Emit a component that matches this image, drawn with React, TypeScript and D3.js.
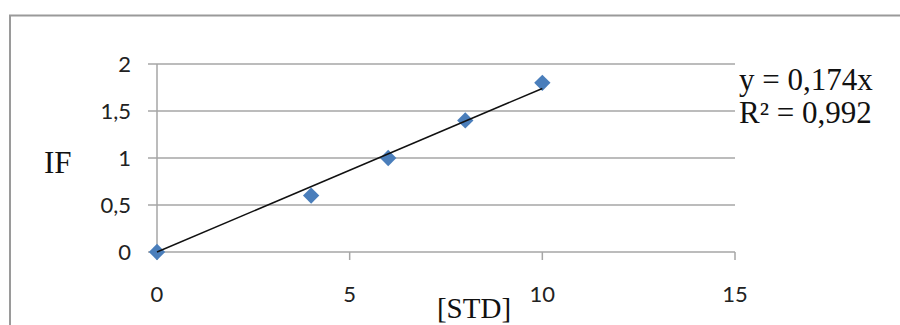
import React from 'react';
import * as d3 from 'd3';

const xValues = [0, 4, 6, 8, 10];
const yValues = [0, 0.6, 1.0, 1.4, 1.8];
const xTicks = [0, 5, 10, 15];
const yTicks = [0, 0.5, 1, 1.5, 2];
const slope = 0.174;
const equationLines = ['y = 0,174x', 'R² = 0,992'];

const W = 900;
const H = 325;

const fmt = (v: number) => String(v).replace('.', ',');

const App = () => {
    const x = d3.scaleLinear().domain([0, 15]).range([157, 735]);
    const y = d3.scaleLinear().domain([0, 2]).range([252, 64]);

    const trend = d3
        .line<number>()
        .x(d => x(d))
        .y(d => y(slope * d));

    const diamond = d3.symbol().type(d3.symbolDiamond2).size(170)();

    return (
        <svg width={W} height={H} style={{ position: 'absolute', left: 0, top: 0 }}>
            <rect x={0} y={0} width={W} height={H} fill="#fff" />
            {/* outer chart border */}
            <path d={`M10,${H + 5} V15.5 H${W + 5}`} fill="none" stroke="#9a9a9a" strokeWidth={2} />

            {/* gridlines + y ticks */}
            {yTicks.map(t => (
                <line key={'g' + t} x1={148} x2={x(15)} y1={y(t)} y2={y(t)} stroke="#a6a6a6" strokeWidth={1.5} />
            ))}
            <line x1={x(0)} x2={x(0)} y1={y(2)} y2={y(0)} stroke="#a6a6a6" strokeWidth={1.5} />
            {xTicks.map(t => (
                <line key={'xt' + t} x1={x(t)} x2={x(t)} y1={y(0)} y2={y(0) + 8} stroke="#a6a6a6" strokeWidth={1.5} />
            ))}

            {yTicks.map(t => (
                <text key={'yl' + t} x={131} y={y(t)} dy="0.36em" textAnchor="end"
                    fontFamily="Lato, 'Open Sans', sans-serif" fontSize={22} fill="#222">
                    {fmt(t)}
                </text>
            ))}
            {xTicks.map(t => (
                <text key={'xl' + t} x={x(t)} y={302} textAnchor="middle"
                    fontFamily="Lato, 'Open Sans', sans-serif" fontSize={22} fill="#222">
                    {fmt(t)}
                </text>
            ))}

            {/* points */}
            {xValues.map((v, i) => (
                <path key={'p' + i} d={diamond ?? ''} transform={`translate(${x(v)},${y(yValues[i])})`} fill="#4a7ebb" />
            ))}

            {/* trend line */}
            <path d={trend([0, 10]) ?? ''} fill="none" stroke="#111" strokeWidth={1.5} />

            {/* equation */}
            {equationLines.map((s, i) => (
                <text key={'e' + i} x={739} y={90 + i * 33} fontFamily="'Liberation Serif', 'DejaVu Serif', serif"
                    fontSize={31} fill="#111">
                    {s}
                </text>
            ))}

            {/* axis titles */}
            <text x={44} y={173} fontFamily="'Liberation Serif', serif" fontSize={31} fill="#111">IF</text>
            <text x={474} y={318} textAnchor="middle" fontFamily="'Liberation Serif', serif" fontSize={29} fill="#111">[STD]</text>
        </svg>
    );
};

export default App;
